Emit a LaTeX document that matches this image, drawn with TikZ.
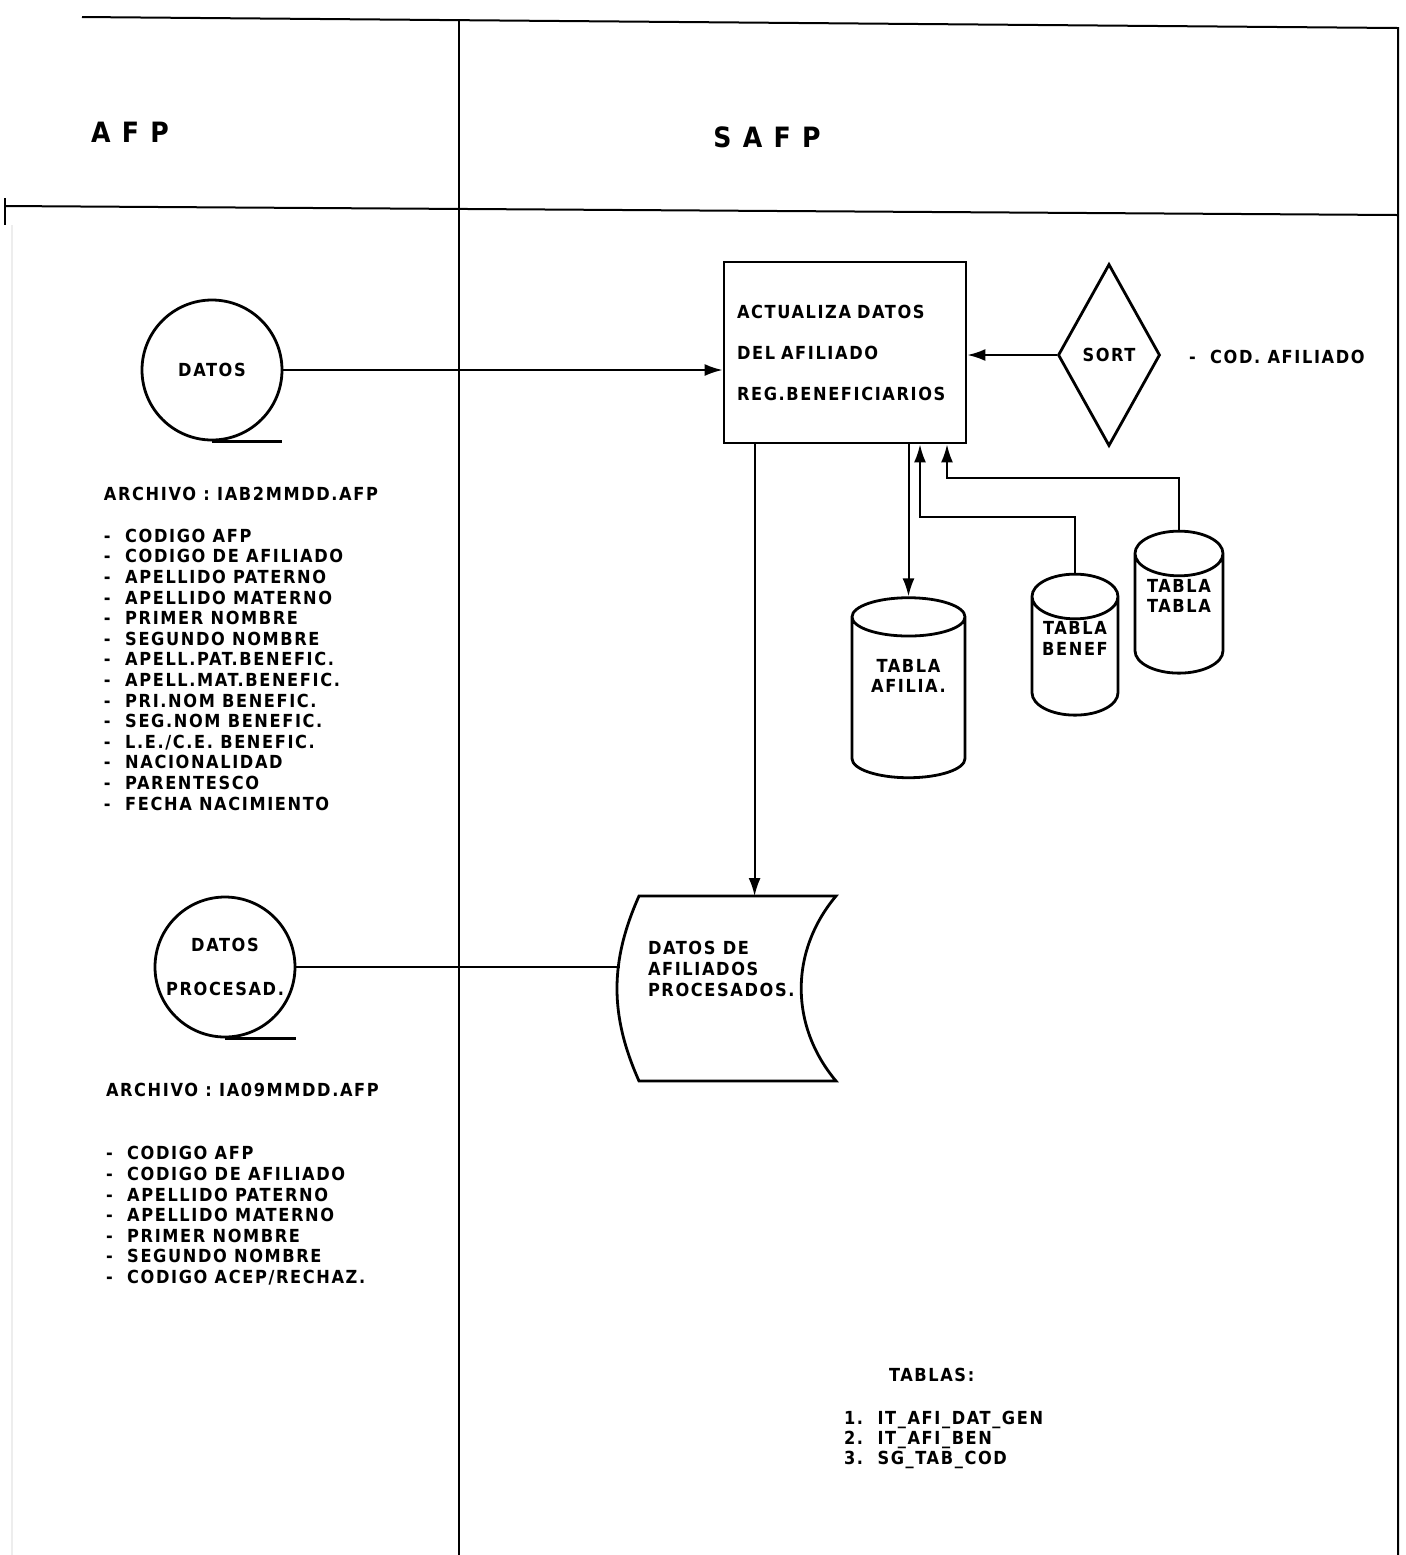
\documentclass[tikz,border=0pt]{standalone}
\usepackage{fontspec}
\setmainfont{DejaVu Sans Condensed}[LetterSpace=9]
\usetikzlibrary{calc,positioning,arrows.meta,shapes}

\begin{document}
\begin{tikzpicture}[x=0.5pt,y=-0.5pt,line width=1pt,every node/.style={font=\bfseries},
  txt/.style={font=\bfseries\fontsize{9}{10.3}\selectfont,inner sep=0pt,align=left},
  cinta/.style={circle,draw,line width=1.4pt,minimum size=70pt,inner sep=0pt,font=\bfseries\fontsize{9}{22}\selectfont,align=center},
  tabla/.style={cylinder,shape border rotate=90,draw,line width=1.4pt,aspect=0.7,inner sep=0pt,font=\bfseries\fontsize{9}{10}\selectfont},
  fl/.style={-{Latex[length=9pt,width=6pt]}}]
  \useasboundingbox (0,0) rectangle (1406,1555);
  % marco y carriles
  \draw (82,17) -- (1398,28) -- (1398,1555);
  \draw (459,20) -- (459,1555);
  \draw (5,206) -- (1398,215);
  \draw (5,198) -- (5,225);
  \draw[black!7] (12,225) -- (12,1555);
  \node[font=\bfseries\fontsize{14}{14}\selectfont] (afp) at (130,132) {A F P};
  \node[font=\bfseries\fontsize{14}{14}\selectfont] (safp) at (767,137) {S A F P};

  % entrada
  \node[cinta] (datos) at (212,370) {DATOS};
  \draw[line width=1.4pt] (datos.south) -- ++(70,0);
  \node[txt,anchor=west] (arch1) at (103,494) {ARCHIVO : IAB2MMDD.AFP};
  \node[txt,anchor=north west] (campos1) at (103,528) {- \ CODIGO AFP\\- \ CODIGO DE AFILIADO\\- \ APELLIDO PATERNO\\- \ APELLIDO MATERNO\\- \ PRIMER NOMBRE\\- \ SEGUNDO NOMBRE\\- \ APELL.PAT.BENEFIC.\\- \ APELL.MAT.BENEFIC.\\- \ PRI.NOM BENEFIC.\\- \ SEG.NOM BENEFIC.\\- \ L.E./C.E. BENEFIC.\\- \ NACIONALIDAD\\- \ PARENTESCO\\- \ FECHA NACIMIENTO};

  % proceso
  \node[draw,line width=1.4pt,minimum width=121pt,minimum height=90.5pt,inner sep=0pt,text width=108pt,align=left,font=\bfseries\fontsize{9}{20.5}\selectfont] (box) at (845,352.5) {ACTUALIZA DATOS\\DEL AFILIADO\\REG.BENEFICIARIOS};
  \node[diamond,draw,line width=1.4pt,minimum width=51pt,minimum height=91pt,aspect=0.56,inner sep=0pt,font=\bfseries\fontsize{9}{10}\selectfont] (sort) at (1109,355) {SORT};
  \node[txt,anchor=west] (cod) at (1188,357) {- \ COD. AFILIADO};
  \draw[fl] (datos.east) -- (datos.east -| box.west);
  \draw[fl] (sort.west) -- (sort.west -| box.east);

  % tablas
  \node[tabla,aspect=0.6,minimum width=56.5pt,minimum height=90pt] (afilia) at (908.5,698) {\phantom{TABLA}};
  \node[tabla,minimum width=43pt,minimum height=70.5pt] (benef) at (1075,656.5) {\phantom{TABLA}};
  \node[tabla,minimum width=44pt,minimum height=71pt] (tabla) at (1179,614) {\phantom{TABLA}};
  \node[txt,align=center] (afiliatxt) at ($(afilia.center)+(0,-22)$) {TABLA\\AFILIA.};
  \node[txt,align=center] (beneftxt) at ($(benef.center)+(0,-18)$) {TABLA\\BENEF};
  \node[txt,align=center] (tablatxt) at ($(tabla.center)+(0,-18)$) {TABLA\\TABLA};
  \coordinate (j1) at (920,517);
  \coordinate (j2) at (947,478);
  \draw[fl] (afilia.north |- box.south) -- (afilia.north);
  \draw[fl] (benef.north) |- (j1) -- (j1 |- box.south);
  \draw[fl] (tabla.north) |- (j2) -- (j2 |- box.south);

  % salida
  \node[minimum width=97.5pt,minimum height=91.5pt,inner sep=0pt] (proc) at (737.5,988.5) {};
  \draw[line width=1.4pt] (proc.south west) to[bend left=24] (proc.north west) -- (proc.north east)
    to[bend right=40] (proc.south east) -- cycle;
  \node[txt,anchor=north west,font=\bfseries\fontsize{9}{10.5}\selectfont] (proctxt) at (647,940) {DATOS DE\\AFILIADOS\\PROCESADOS.};
  \draw[fl] ($(box.south west)+(32,0)$) coordinate (b1) -- (b1 |- proc.north);

  \node[cinta] (procesad) at (225,967) {DATOS\\PROCESAD.};
  \draw[line width=1.4pt] (procesad.south) -- ++(71,0);
  \coordinate (p1) at (620,967);
  \draw (procesad.east) -- (procesad.east -| p1);
  \node[txt,anchor=west] (arch2) at (105,1090) {ARCHIVO : IA09MMDD.AFP};
  \node[txt,anchor=north west] (campos2) at (105,1145.5) {- \ CODIGO AFP\\- \ CODIGO DE AFILIADO\\- \ APELLIDO PATERNO\\- \ APELLIDO MATERNO\\- \ PRIMER NOMBRE\\- \ SEGUNDO NOMBRE\\- \ CODIGO ACEP/RECHAZ.};

  % lista de tablas
  \node[txt,anchor=west] (tablas) at (888,1375) {TABLAS:};
  \node[txt,anchor=north west,font=\bfseries\fontsize{9}{10}\selectfont] (lista) at (843,1410.5) {1.\ \ IT\_AFI\_DAT\_GEN\\2.\ \ IT\_AFI\_BEN\\3.\ \ SG\_TAB\_COD};
\end{tikzpicture}
\end{document}
